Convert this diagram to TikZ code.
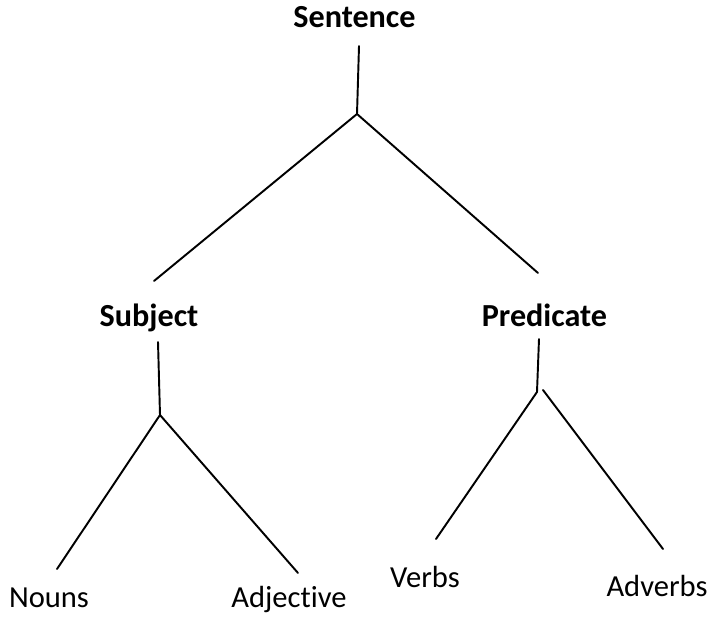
\documentclass[tikz,border=0pt]{standalone}
\usepackage{fontspec}
\setmainfont{Carlito}[Ligatures=NoCommon]

\tikzset{
    word/.style={anchor=base, inner sep=0pt, font=\fontsize{17.4}{21}\selectfont},
    head/.style={word, font=\fontsize{18.3}{22}\selectfont\bfseries},
    branch/.style={line width=1.1pt, line cap=round}
}

\begin{document}
\begin{tikzpicture}[x=0.02cm, y=-0.02cm]
    \useasboundingbox (0,0) rectangle (710,624);
    % words
    \node[head] (sentence) at (354.5,28) {Sentence};
    \node[head] (subject) at (149,327) {Subject};
    \node[head] (predicate) at (544.5,327) {Predicate};
    \node[word] (nouns) at (49,607) {Nouns};
    \node[word] (adjective) at (289,607) {Adjective};
    \node[word] (verbs) at (425,587) {Verbs};
    \node[word] (adverbs) at (657,597) {Adverbs};
    % stems and forks
    \coordinate (sentence-top) at (359,46);
    \coordinate (sentence-fork) at (357,114);
    \coordinate (subject-end) at (154,281);
    \coordinate (predicate-end) at (538,273);
    \coordinate (subject-top) at (158,342);
    \coordinate (subject-fork) at (160,415);
    \coordinate (nouns-end) at (57,569);
    \coordinate (adjective-end) at (298,573);
    \coordinate (predicate-top) at (539,339);
    \coordinate (predicate-fork) at (537,392);
    \coordinate (predicate-fork2) at (543,390);
    \coordinate (verbs-end) at (436,539);
    \coordinate (adverbs-end) at (663,549);
    \draw[branch] (sentence-top) -- (sentence-fork);
    \draw[branch] (sentence-fork) -- (subject-end);
    \draw[branch] (sentence-fork) -- (predicate-end);
    \draw[branch] (subject-top) -- (subject-fork);
    \draw[branch] (subject-fork) -- (nouns-end);
    \draw[branch] (subject-fork) -- (adjective-end);
    \draw[branch] (predicate-top) -- (predicate-fork);
    \draw[branch] (predicate-fork) -- (verbs-end);
    \draw[branch] (predicate-fork2) -- (adverbs-end);
\end{tikzpicture}
\end{document}
